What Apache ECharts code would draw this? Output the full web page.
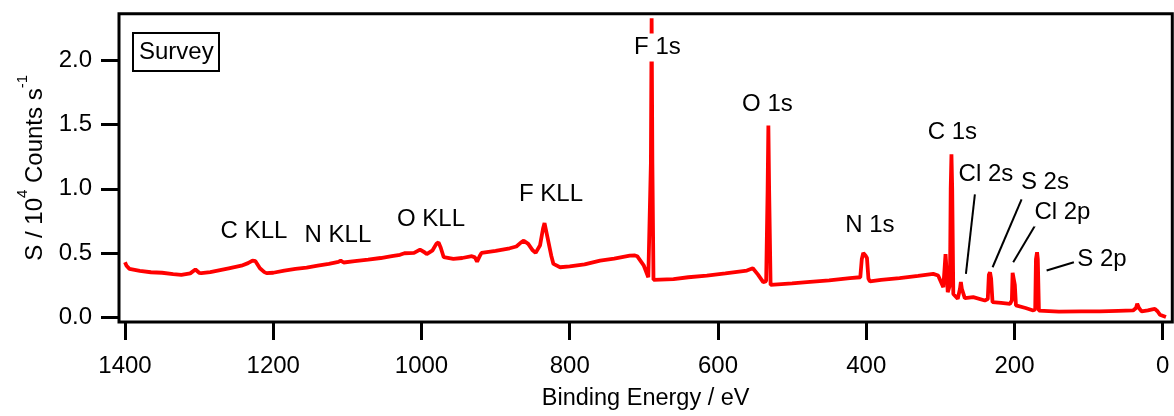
<!DOCTYPE html>
<html>
<head>
<meta charset="utf-8">
<script src="https://cdn.jsdelivr.net/npm/echarts@6/dist/echarts.min.js"></script>
<style>
  html, body { margin: 0; padding: 0; background: #fff; }
  #chart { width: 1174px; height: 416px; }
</style>
</head>
<body>
<div id="chart"></div>
<script>
// Binding energy (eV) and intensity (10^4 counts/s)
const energy = [
  1400, 1398, 1394, 1380, 1365, 1350, 1335, 1324, 1312, 1305, 1300, 1297, 1285, 1275, 1260,
  1243, 1234, 1228, 1224, 1218, 1212, 1209, 1200, 1185, 1170, 1155, 1140, 1125, 1112, 1109,
  1105, 1090, 1072, 1055, 1040, 1029, 1023, 1010, 1002, 996, 993, 985, 980, 977, 974,
  970, 957, 945, 932, 928, 925, 921, 919, 900, 881, 872, 866, 862, 856, 850,
  846, 840, 836, 834, 830, 825, 822, 813, 800, 780, 759, 740, 719, 712, 709,
  700, 694, 692, 690.5, 689.5, 688.5, 687, 684.6, 660, 640, 615, 590, 561, 553, 546,
  539, 535, 533, 532, 531, 529, 528, 500, 480, 450, 422, 408, 406, 404, 401,
  399, 397, 395, 380, 355, 330, 309.6, 303, 296, 294, 293, 292, 290, 287, 286,
  285, 284, 282.5, 276.5, 273.5, 272.3, 271, 267, 255.6, 240, 236, 234.5, 233, 231.5, 229.6,
  218, 206, 203.5, 202.5, 201, 199.5, 198, 185, 174.7, 172, 171, 169.5, 168.5, 167, 165.6,
  140, 110, 84.8, 60, 40, 36, 34.4, 32, 28.5, 20, 14, 10.6, 7, 3.8, -4.4
];
const counts = [
  0.427, 0.400, 0.375, 0.360, 0.349, 0.345, 0.335, 0.328, 0.340, 0.370, 0.345, 0.342, 0.350, 0.362, 0.380,
  0.400, 0.420, 0.440, 0.435, 0.380, 0.350, 0.342, 0.345, 0.362, 0.375, 0.385, 0.400, 0.415, 0.430, 0.440,
  0.425, 0.435, 0.447, 0.460, 0.475, 0.485, 0.497, 0.500, 0.525, 0.505, 0.490, 0.520, 0.570, 0.582, 0.540,
  0.466, 0.453, 0.460, 0.474, 0.465, 0.432, 0.480, 0.500, 0.515, 0.536, 0.550, 0.580, 0.595, 0.570, 0.520,
  0.500, 0.560, 0.690, 0.732, 0.620, 0.480, 0.414, 0.388, 0.395, 0.410, 0.440, 0.455, 0.478, 0.480, 0.474,
  0.400, 0.310, 0.300, 1.200, 2.330, 1.200, 0.290, 0.284, 0.295, 0.310, 0.323, 0.340, 0.362, 0.380, 0.330,
  0.272, 0.280, 1.000, 1.493, 1.000, 0.250, 0.245, 0.262, 0.272, 0.285, 0.303, 0.310, 0.450, 0.500, 0.480,
  0.460, 0.300, 0.277, 0.290, 0.303, 0.320, 0.336, 0.323, 0.233, 0.400, 0.490, 0.400, 0.194, 0.250, 1.000,
  1.268, 1.000, 0.180, 0.142, 0.220, 0.272, 0.220, 0.147, 0.155, 0.129, 0.140, 0.330, 0.349, 0.300, 0.116,
  0.110, 0.103, 0.130, 0.345, 0.349, 0.250, 0.090, 0.070, 0.051, 0.060, 0.450, 0.505, 0.450, 0.050, 0.039,
  0.042, 0.044, 0.044, 0.048, 0.051, 0.070, 0.103, 0.070, 0.044, 0.052, 0.060, 0.064, 0.045, 0.018, 0.000
];

// Peak annotations (label centre in data coordinates)
const annoLabels = ['C KLL', 'N KLL', 'O KLL', 'F KLL', 'F 1s', 'O 1s', 'N 1s', 'C 1s', 'Cl 2s', 'S 2s', 'Cl 2p', 'S 2p'];
const annoEnergy = [1226, 1112.7, 987.2, 825.3, 681.7, 533.3, 395, 283.7, 238.5, 158.9, 135.3, 82];
const annoCounts = [0.665, 0.634, 0.763, 0.957, 2.101, 1.656, 0.711, 1.441, 1.113, 1.048, 0.815, 0.453];

// Leader lines: [start energy, start counts, end energy, end counts]
const leaderCl2s = [253.4, 0.957, 265.5, 0.336];
const leaderS2s  = [190.4, 0.918, 229.5, 0.388];
const leaderCl2p = [172.4, 0.711, 201.7, 0.427];
const leaderS2p  = [119.8, 0.427, 156.6, 0.362];

const xTicks = [0, 200, 400, 600, 800, 1000, 1200, 1400];
const xTickLabels = ['0', '200', '400', '600', '800', '1000', '1200', '1400'];
const yTicks = [0, 0.5, 1.0, 1.5, 2.0];
const yTickLabels = ['0.0', '0.5', '1.0', '1.5', '2.0'];

const FONT = '"Liberation Sans", Arial, sans-serif';
const FS = 24;
const chart = echarts.init(document.getElementById('chart'), null, { renderer: 'canvas' });

const spectrum = energy.map((e, i) => [e, counts[i]]);
const annos = annoLabels.map((n, i) => ({ name: n, value: [annoEnergy[i], annoCounts[i]] }));
const leaders = [leaderCl2s, leaderS2s, leaderCl2p, leaderS2p].map(l => ({ coords: [[l[0], l[1]], [l[2], l[3]]] }));
const pick = (ticks, labels) => v => { const i = ticks.findIndex(t => Math.abs(t - v) < 1e-9); return i >= 0 ? labels[i] : ''; };

chart.setOption({
  animation: false,
  backgroundColor: '#fff',
  title: {
    text: 'Survey',
    left: 133, top: 33,
    padding: [7, 6],
    borderWidth: 2, borderColor: '#000',
    textStyle: { fontFamily: FONT, fontSize: FS, fontWeight: 'normal', color: '#000', lineHeight: 24 }
  },
  grid: {
    left: 119, top: 13.7, right: 1.7, bottom: 92.7,
    show: true, borderWidth: 3, borderColor: '#000', backgroundColor: 'transparent'
  },
  xAxis: {
    type: 'value', inverse: true, min: -12.95, max: 1408.1,
    name: 'Binding Energy / eV', nameLocation: 'middle', nameGap: 65,
    nameTextStyle: { fontFamily: FONT, fontSize: 23.5, color: '#000', lineHeight: 24 },
    axisLine: { show: false, onZero: false },
    splitLine: { show: false },
    axisTick: { show: true, length: 18, lineStyle: { color: '#000', width: 3 }, customValues: xTicks },
    axisLabel: { fontFamily: FONT, fontSize: FS, color: '#000', margin: 32, customValues: xTicks, lineHeight: 24,
                 formatter: pick(xTicks, xTickLabels) }
  },
  yAxis: {
    type: 'value', min: -0.039, max: 2.365,
    name: '{a|S / 10}{s|4}{a| Counts s}{s|-1}', nameLocation: 'middle', nameGap: 62,
    nameTextStyle: {
      rich: {
        a: { fontFamily: FONT, fontSize: FS, color: '#000', lineHeight: 40 },
        s: { fontFamily: FONT, fontSize: 15, color: '#000', lineHeight: 15, verticalAlign: 'top' }
      }
    },
    axisLine: { show: false, onZero: false },
    splitLine: { show: false },
    axisTick: { show: true, length: 18, lineStyle: { color: '#000', width: 3 }, customValues: yTicks },
    axisLabel: { fontFamily: FONT, fontSize: FS, color: '#000', margin: 27, customValues: yTicks,
                 formatter: pick(yTicks, yTickLabels) }
  },
  series: [
    {
      type: 'line', data: spectrum, showSymbol: false, symbol: 'none',
      lineStyle: { color: '#ff0000', width: 3.8 }, z: 2, silent: true
    },
    {
      type: 'lines', coordinateSystem: 'cartesian2d', data: leaders,
      lineStyle: { color: '#000', width: 2, opacity: 1 }, z: 3, silent: true
    },
    {
      type: 'scatter', data: annos, symbolSize: 1, itemStyle: { color: 'rgba(0,0,0,0)', opacity: 1 }, z: 4, silent: true,
      label: {
        show: true, position: 'inside', formatter: '{b}', opacity: 1,
        fontFamily: FONT, fontSize: FS, color: '#000', lineHeight: 24,
        backgroundColor: '#fff', padding: [2, 1], textBorderWidth: 0
      }
    }
  ]
});
</script>
</body>
</html>
